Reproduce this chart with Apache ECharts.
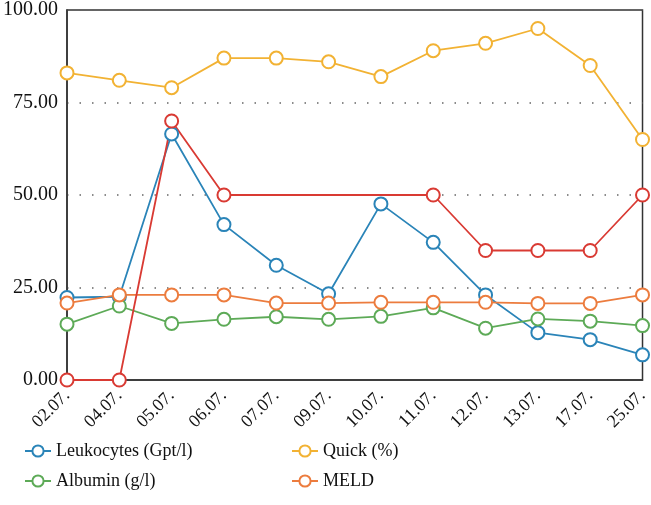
<!DOCTYPE html>
<html><head><meta charset="utf-8">
<script src="https://cdn.jsdelivr.net/npm/echarts@6/dist/echarts.min.js"></script>
<style>html,body{margin:0;padding:0;background:#fff}#c{width:651px;height:505px}</style>
</head><body><div id="c"></div>
<script>
const categories = ['02.07.','04.07.','05.07.','06.07.','07.07.','09.07.','10.07.','11.07.','12.07.','13.07.','17.07.','25.07.'];
const leukocytes = [22.3, 22.5, 66.5, 42, 31, 23.3, 47.6, 37.2, 23, 12.8, 10.9, 6.8];
const quick = [83, 81, 79, 87, 87, 86, 82, 89, 91, 95, 85, 65];
const albumin = [15.1, 20, 15.3, 16.4, 17.1, 16.4, 17.2, 19.5, 14, 16.5, 15.9, 14.7];
const meld = [20.8, 23, 23, 23, 20.8, 20.8, 21, 21, 21, 20.7, 20.7, 23];
const redSeries = [0, 0, 70, 50, null, null, null, 50, 35, 35, 35, 50];
const yTicks = [0, 25, 50, 75, 100];

const FONT = 'Liberation Serif';
function mk(name, data, color, extra) {
  return Object.assign({
    name, type: 'line', data, symbol: 'emptyCircle', symbolSize: 13,
    lineStyle: { color, width: 1.8 }, itemStyle: { color, borderColor: color, borderWidth: 1.8 },
    animation: false, connectNulls: true
  }, extra || {});
}
const chart = echarts.init(document.getElementById('c'));
chart.setOption({
  animation: false,
  grid: { left: 66, right: 7, top: 8, bottom: 125, show: true, borderColor: '#333', borderWidth: 1.5, backgroundColor: 'transparent' },
  xAxis: {
    type: 'category', data: categories, boundaryGap: false,
    axisLine: { lineStyle: { color: '#333', width: 1.5 } },
    axisTick: { show: false },
    axisLabel: { rotate: 45, color: '#111', fontFamily: FONT, fontSize: 18, margin: 13 },
    splitLine: { show: false }
  },
  yAxis: {
    type: 'value', min: 0, max: 100, interval: 25,
    axisLine: { show: true, lineStyle: { color: '#333', width: 1.5 } },
    axisTick: { show: false },
    axisLabel: { color: '#111', fontFamily: FONT, fontSize: 20, margin: 9, formatter: v => yTicks.includes(v) ? v.toFixed(2) : '' },
    splitLine: { show: true, lineStyle: { color: '#666', type: [1.5, 11], width: 1.5 } }
  },
  legend: [
    { data: ['Leukocytes (Gpt/l)', 'Albumin (g/l)'], orient: 'vertical', left: 19, top: 437, itemGap: 12, itemWidth: 26, itemHeight: 14,
      textStyle: { fontFamily: FONT, fontSize: 18, color: '#111' } },
    { data: ['Quick (%)', 'MELD'], orient: 'vertical', left: 286, top: 437, itemGap: 12, itemWidth: 26, itemHeight: 14,
      textStyle: { fontFamily: FONT, fontSize: 18, color: '#111' } }
  ],
  series: [
    mk('Leukocytes (Gpt/l)', leukocytes, '#2a84b8'),
    mk('Quick (%)', quick, '#f2b233'),
    mk('Albumin (g/l)', albumin, '#5daa57'),
    mk('MELD', meld, '#ec7c3e'),
    mk('red', redSeries, '#d93a33')
  ]
});
</script></body></html>
